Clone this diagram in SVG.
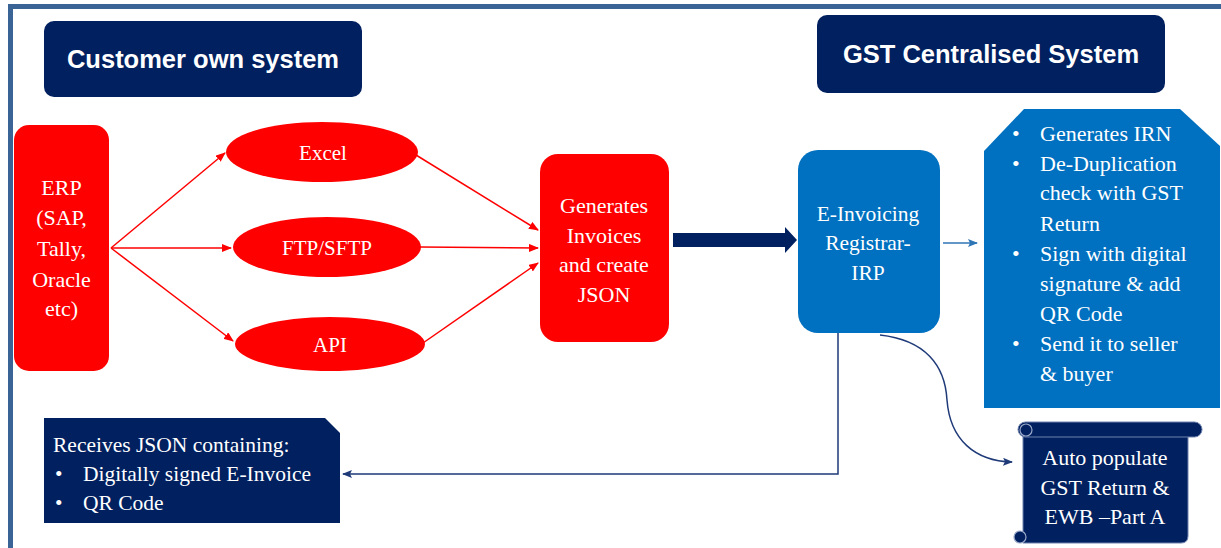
<svg xmlns="http://www.w3.org/2000/svg" width="1221" height="548" viewBox="0 0 1221 548">
<defs>
<style>
.hdr{fill:#002060}
.hdrt{font-family:"Liberation Sans",Arial,sans-serif;font-weight:bold;font-size:25.5px;fill:#fff;text-anchor:middle}
.t{font-family:"Liberation Serif","Times New Roman",serif;fill:#fff}
.c{text-anchor:middle}
.red{fill:#FF0000}
.blue{fill:#0070C0}
.navy{fill:#002060}
.rl{stroke:#FF0000;stroke-width:1.5;fill:none}
.nl{stroke:#1F3A78;stroke-width:1.5;fill:none}
.bl{stroke:#2E75B6;stroke-width:1.5;fill:none}
</style>
<marker id="ar" markerUnits="userSpaceOnUse" markerWidth="10" markerHeight="8" refX="9" refY="4" orient="auto"><path d="M0,0 L10,4 L0,8 Z" fill="#FF0000"/></marker>
<marker id="an" markerUnits="userSpaceOnUse" markerWidth="10" markerHeight="8" refX="9" refY="4" orient="auto"><path d="M0,0 L10,4 L0,8 L2,4 Z" fill="#1F3A78"/></marker>
<marker id="ab" markerUnits="userSpaceOnUse" markerWidth="10" markerHeight="8" refX="9" refY="4" orient="auto"><path d="M0,0 L10,4 L0,8 L2,4 Z" fill="#2E75B6"/></marker>
</defs>

<path d="M10.5,548 V6.5 H1221" fill="none" stroke="#3A6496" stroke-width="5"/>

<g id="customer-own-system">
<rect class="hdr" x="44" y="21" width="318" height="76" rx="10"/>
<text class="hdrt" x="203" y="68">Customer own system</text>
</g>

<g id="gst-centralised-system">
<rect class="hdr" x="817" y="15" width="348" height="78" rx="10"/>
<text class="hdrt" x="991" y="63">GST Centralised System</text>
</g>

<g id="connectors">
<line class="rl" x1="111" y1="248" x2="225" y2="153" marker-end="url(#ar)"/>
<line class="rl" x1="111" y1="248" x2="231" y2="248" marker-end="url(#ar)"/>
<line class="rl" x1="111" y1="248" x2="233" y2="341" marker-end="url(#ar)"/>
<line class="rl" x1="416" y1="155" x2="538" y2="230" marker-end="url(#ar)"/>
<line class="rl" x1="420" y1="247" x2="538" y2="248" marker-end="url(#ar)"/>
<line class="rl" x1="423" y1="343" x2="538" y2="263" marker-end="url(#ar)"/>
<path d="M673,233 H785 V227 L797,240 L785,253 V247 H673 Z" fill="#002060"/>
<line class="bl" x1="943" y1="243" x2="977" y2="243" marker-end="url(#ab)"/>
<path class="nl" d="M838,333 V474 H343" marker-end="url(#an)"/>
<path class="nl" d="M880,335 C925,340 945,365 947,400 C950,440 975,461 1012,462" marker-end="url(#an)"/>
</g>

<g id="erp">
<rect class="red" x="14" y="125" width="95" height="246" rx="15"/>
<text class="t c" font-family="'Liberation Serif', serif" font-size="22"><tspan x="61.5" y="195">ERP</tspan><tspan x="61.5" y="225">(SAP,</tspan><tspan x="61.5" y="256">Tally,</tspan><tspan x="61.5" y="287">Oracle</tspan><tspan x="61.5" y="316">etc)</tspan></text>
</g>

<g id="excel">
<ellipse class="red" cx="322" cy="152" rx="96" ry="30"/>
<text class="t c" font-family="'Liberation Serif', serif" font-size="21" x="323" y="160">Excel</text>
</g>

<g id="ftp-sftp">
<ellipse class="red" cx="327" cy="247" rx="94" ry="30"/>
<text class="t c" font-family="'Liberation Serif', serif" font-size="21" x="327" y="255">FTP/SFTP</text>
</g>

<g id="api">
<ellipse class="red" cx="330" cy="344" rx="95" ry="27"/>
<text class="t c" font-family="'Liberation Serif', serif" font-size="21" x="330" y="352">API</text>
</g>

<g id="generates-invoices">
<rect class="red" x="540" y="154" width="129" height="188" rx="18"/>
<text class="t c" font-family="'Liberation Serif', serif" font-size="22"><tspan x="604" y="213">Generates</tspan><tspan x="604" y="243">Invoices</tspan><tspan x="604" y="272">and create</tspan><tspan x="604" y="302">JSON</tspan></text>
</g>

<g id="irp">
<rect class="blue" x="798" y="150" width="142" height="183" rx="20"/>
<text class="t c" font-family="'Liberation Serif', serif" font-size="21.5"><tspan x="868" y="221">E-Invoicing</tspan><tspan x="868" y="250">Registrar-</tspan><tspan x="868" y="280">IRP</tspan></text>
</g>

<g id="irp-actions">
<path class="blue" d="M1024,109 H1180 L1220,146 V408 H984 V151 Z"/>
<g class="t" font-family="'Liberation Serif', serif" font-size="22">
<text x="1012" y="141">•</text><text x="1040" y="141">Generates IRN</text>
<text x="1012" y="171">•</text><text x="1040" y="171">De-Duplication</text>
<text x="1040" y="200">check with GST</text>
<text x="1040" y="231">Return</text>
<text x="1012" y="261">•</text><text x="1040" y="261">Sign with digital</text>
<text x="1040" y="291">signature &amp; add</text>
<text x="1040" y="321">QR Code</text>
<text x="1012" y="351">•</text><text x="1040" y="351">Send it to seller</text>
<text x="1040" y="381">&amp; buyer</text>
</g>
</g>

<g id="receives-json">
<path class="navy" d="M44,418 H325 L340,433 V523 H44 Z"/>
<g class="t" font-family="'Liberation Serif', serif" font-size="21.5">
<text x="53" y="452">Receives JSON containing:</text>
<text x="55" y="481">•</text><text x="83" y="481">Digitally signed E-Invoice</text>
<text x="55" y="510">•</text><text x="83" y="510">QR Code</text>
</g>
</g>

<g id="auto-populate">
<path class="navy" d="M1023,430 H1188 V536 Q1188,543 1181,543 H1023 Z" stroke="#6F82AE" stroke-width="1"/>
<rect class="navy" x="1018" y="422" width="184" height="15" rx="7.5" stroke="#6F82AE" stroke-width="1"/>
<circle cx="1026" cy="430" r="6" fill="#002060" stroke="#9AA8C8" stroke-width="1.2"/>
<circle cx="1020" cy="537" r="6" fill="#002060" stroke="#9AA8C8" stroke-width="1.2"/>
<text class="t c" font-family="'Liberation Serif', serif" font-size="22"><tspan x="1105" y="465">Auto populate</tspan><tspan x="1105" y="495">GST Return &amp;</tspan><tspan x="1105" y="524">EWB –Part A</tspan></text>
</g>
</svg>
